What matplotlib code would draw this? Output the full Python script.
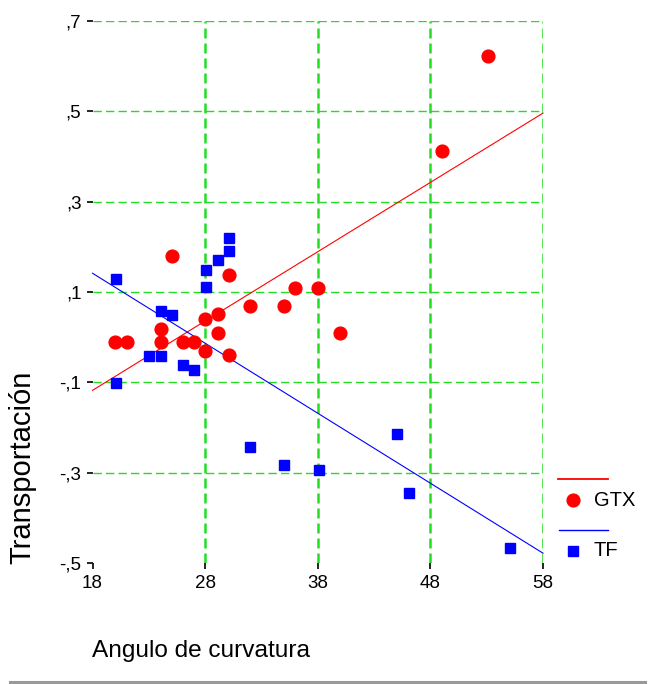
import numpy as np
import matplotlib
matplotlib.use("Agg")
import matplotlib.pyplot as plt
from matplotlib.lines import Line2D

plt.rcParams['font.family'] = ['Liberation Sans', 'DejaVu Sans']

# ---- data ----
gtx_x = [20.0, 21.1, 24.1, 24.1, 25.1, 26.0, 27.0, 28.0, 28.0, 29.1, 29.1, 30.1, 30.1,
         32.0, 35.0, 36.0, 38.0, 40.0, 49.0, 53.1]
gtx_y = [-0.011, -0.011, -0.011, 0.018, 0.18, -0.011, -0.011, 0.04, -0.031, 0.051, 0.009,
         0.138, -0.04, 0.069, 0.069, 0.109, 0.109, 0.009, 0.413, 0.622]
tf_x = [30.1, 30.1, 29.1, 28.1, 28.1, 20.1, 24.1, 25.1, 23.0, 24.1, 26.0, 27.0, 20.1,
        32.0, 35.0, 38.1, 45.0, 46.1, 55.1]
tf_y = [0.22, 0.19, 0.17, 0.148, 0.11, 0.129, 0.058, 0.048, -0.042, -0.042, -0.062,
        -0.073, -0.102, -0.244, -0.284, -0.294, -0.214, -0.345, -0.467]

x_ticks = [18, 28, 38, 48, 58]
x_ticklabels = ['18', '28', '38', '48', '58']
y_ticks = [-0.5, -0.3, -0.1, 0.1, 0.3, 0.5, 0.7]
y_ticklabels = ['-,5', '-,3', '-,1', ',1', ',3', ',5', ',7']
series_names = ['GTX', 'TF']
x_label = 'Angulo de curvatura'
y_label = 'Transportación'

W, H = 655, 684
fig = plt.figure(figsize=(W / 100, H / 100), dpi=100)
L, R, T, B = 92.5, 543, 21, 563
ax = fig.add_axes([L / W, 1 - B / H, (R - L) / W, (B - T) / H])
ax.set_xlim(18, 58)
ax.set_ylim(-0.5, 0.7)
for s in ax.spines.values():
    s.set_visible(False)

green = '#22dd22'
for yv in y_ticks[1:]:
    ax.axhline(yv, color=green, lw=1.0, ls=(0, (6, 3)), zorder=1)
for xv in x_ticks[1:]:
    ax.axvline(xv, color=green, lw=1.8, ls=(0, (4, 2)), zorder=1)

# regression lines
xs = np.array([18, 58], dtype=float)
c1 = np.polyfit(gtx_x, gtx_y, 1)
c2 = np.polyfit(tf_x, tf_y, 1)
ax.plot(xs, np.polyval(c1, xs), color='#ff0000', lw=0.8, zorder=2, clip_on=False)
ax.plot(xs, np.polyval(c2, xs), color='#0000ff', lw=0.8, zorder=2, clip_on=False)

ax.plot(gtx_x, gtx_y, 'o', color='#ff0000', ms=9.2, mec='#ff0000', zorder=3, clip_on=False)
ax.plot(tf_x, tf_y, 's', color='#0000ff', ms=6.8, mec='#0000ff', zorder=3, clip_on=False)

ax.set_xticks(x_ticks)
ax.set_xticklabels(x_ticklabels)
ax.set_yticks(y_ticks)
ax.set_yticklabels(y_ticklabels)
ax.tick_params(axis='both', length=4, width=1.2, color='black', labelsize=13.5, pad=4)
ax.tick_params(axis='x', pad=5)

fig.text(92 / W, 1 - 651 / H, x_label, fontsize=17.6, ha='left', va='center')
fig.text(22 / W, 1 - 564 / H, y_label, fontsize=21, rotation=90, ha='center', va='bottom')

# legend (manual)
def fx(px):
    return px / W

def fy(py):
    return 1 - py / H

fig.add_artist(Line2D([fx(558), fx(608)], [fy(479), fy(479)], color='#ff0000', lw=1.3,
                      transform=fig.transFigure))
fig.add_artist(Line2D([fx(573)], [fy(500)], marker='o', color='#ff0000', ms=9.2,
                      transform=fig.transFigure))
fig.text(fx(594), fy(500), series_names[0], fontsize=14.5, ha='left', va='center')
fig.add_artist(Line2D([fx(559), fx(608)], [fy(530), fy(530)], color='#0000ff', lw=1.0,
                      transform=fig.transFigure))
fig.add_artist(Line2D([fx(573)], [fy(551)], marker='s', color='#0000ff', ms=6.8,
                      transform=fig.transFigure))
fig.text(fx(593), fy(551), series_names[1], fontsize=14.5, ha='left', va='center')

# bottom gray rule
fig.add_artist(Line2D([fx(10), fx(645)], [fy(682), fy(682)], color='#999999', lw=2.2,
                      transform=fig.transFigure))

fig.savefig('out.png', dpi=100)
